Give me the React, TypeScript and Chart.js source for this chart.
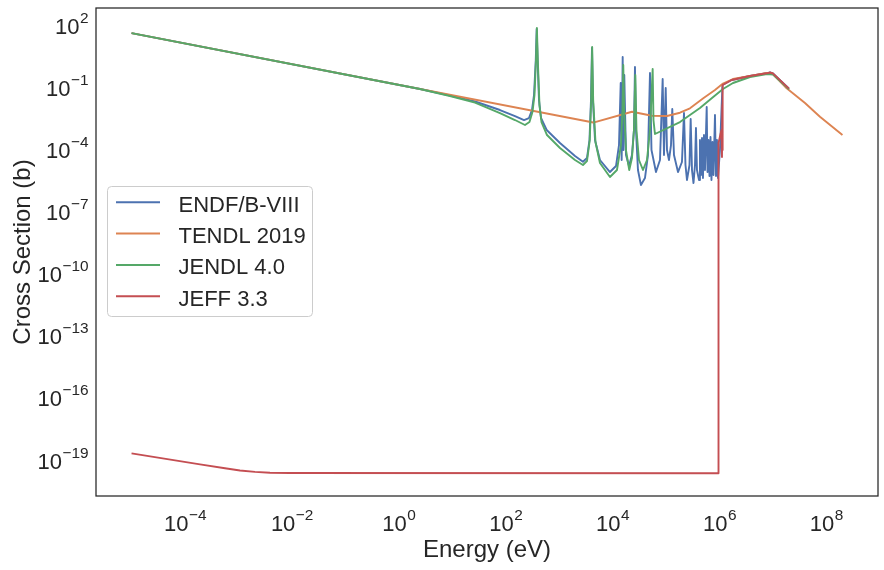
import React, { useEffect, useRef } from "react";
import { Chart, registerables } from "chart.js";

Chart.register(...registerables);

// All values are log10 of energy (eV) and log10 of cross section (b).
const endfLogE = [
  -5.0, 0.397, 0.958, 1.426, 1.893, 2.174, 2.343, 2.436, 2.492, 2.53, 2.563, 2.58, 2.597, 2.623, 2.661,
  2.767, 3.016, 3.297, 3.446, 3.521, 3.568, 3.596, 3.615, 3.633, 3.671, 3.764, 3.951, 4.064, 4.12, 4.152,
  4.17, 4.189, 4.204, 4.219, 4.251, 4.307, 4.363, 4.4, 4.419, 4.438, 4.475, 4.531, 4.606, 4.662, 4.7,
  4.728, 4.812, 4.887, 4.937, 4.962, 4.994, 5.018, 5.055, 5.093, 5.117, 5.149, 5.224, 5.298, 5.336, 5.364,
  5.392, 5.439, 5.461, 5.486, 5.514, 5.542, 5.56, 5.579, 5.617, 5.635, 5.654, 5.673, 5.691, 5.71, 5.729,
  5.761, 5.776, 5.794, 5.813, 5.832, 5.85, 5.869, 5.888, 5.916, 5.935, 5.953, 5.972, 6.009, 6.056,
  6.228, 6.571, 6.883, 6.945, 7.001, 7.301,
];
const endfLogXS = [
  1.42, -1.279, -1.595, -1.885, -2.295, -2.585, -2.778, -2.681, -2.295, -1.571, 0.119, 1.616, 0.119, -1.812, -2.681,
  -3.261, -3.889, -4.516, -4.792, -4.613, -3.744, -1.812, 0.699, -1.812, -3.744, -4.709, -5.289, -4.999, -3.985, -0.991,
  -4.709, 0.264, -4.227, -0.605, -4.468, -4.999, -4.468, -3.261, -0.219, -3.261, -5.192, -5.917, -5.579, -4.468, -0.509,
  -4.227, -5.289, -4.709, -0.798, -4.468, -1.233, -4.227, -4.709, -3.985, -2.247, -4.468, -5.289, -4.806, -2.44, -4.951,
  -5.675, -4.951, -2.73, -5.192, -5.82, -4.951, -3.164, -5.192, -5.675, -3.744, -5.434, -3.647, -5.579, -3.502, -5.192,
  -2.15, -5.289, -3.744, -5.482, -3.599, -5.675, -3.84, -5.434, -2.537, -5.482, -3.744, -5.579, -4.227, -1.088,
  -0.847, -0.653, -0.523, -0.484, -0.533, -1.26,
];

const tendlLogE = [
  -5.0, 3.639, 4.363, 4.737, 5.018, 5.261, 5.448, 5.697, 5.916, 6.066, 6.253, 6.571, 6.889, 6.982, 7.257,
  7.6, 7.88, 8.301,
];
const tendlLogXS = [
  1.42, -2.9, -2.377, -2.57, -2.585, -2.426, -2.213, -1.73, -1.329, -1.016, -0.798, -0.653, -0.509, -0.509, -1.247,
  -1.957, -2.619, -3.502,
];

const jendlLogE = [
  -5.0, 0.397, 0.958, 1.426, 1.893, 2.174, 2.361, 2.445, 2.501, 2.539, 2.567, 2.584, 2.601, 2.632, 2.67,
  2.773, 3.016, 3.297, 3.446, 3.521, 3.573, 3.6, 3.618, 3.637, 3.68, 3.764, 3.951, 4.082, 4.157, 4.185,
  4.2, 4.219, 4.251, 4.312, 4.363, 4.4, 4.425, 4.447, 4.494, 4.569, 4.644, 4.7, 4.75, 4.765, 4.793,
  5.261, 5.635, 5.86, 6.066, 6.253, 6.571, 6.889, 7.001, 7.301,
];
const jendlLogXS = [
  1.42, -1.279, -1.619, -1.933, -2.44, -2.778, -3.019, -2.875, -2.392, -1.571, 0.119, 1.664, 0.119, -2.054, -2.875,
  -3.502, -4.13, -4.709, -4.951, -4.758, -3.744, -1.812, 0.747, -1.812, -3.84, -4.854, -5.53, -5.192, -3.985, -2.295,
  -0.122, -2.537, -4.227, -5.192, -4.613, -3.261, -0.605, -3.261, -4.709, -5.192, -4.709, -3.261, -0.315, -2.778, -3.454,
  -2.875, -2.199, -1.716, -1.281, -0.991, -0.702, -0.557, -0.581, -1.3,
];

const jeffLogE = [
  -5.0, -3.719, -3.252, -2.971, -2.69, -2.41, -2.035, 5.978, 5.982, 6.037, 6.047, 6.052, 6.056, 6.062,
  6.228, 6.571, 6.883, 6.945, 7.001, 7.301,
];
const jeffLogXS = [
  -18.872, -19.403, -19.591, -19.697, -19.765, -19.804, -19.823, -19.83, -3.889, -3.261, -4.565, -2.054, -4.227, -1.088,
  -0.847, -0.653, -0.523, -0.484, -0.533, -1.26,
];

const seriesNames = ["ENDF/B-VIII", "TENDL 2019", "JENDL 4.0", "JEFF 3.3"];
const seriesColors = ["#4c72b0", "#dd8452", "#55a868", "#c44e52"];
const xTickExps = [-4, -2, 0, 2, 4, 6, 8];
const yTickExps = [2, -1, -4, -7, -10, -13, -16, -19];
const xLimExps = [-5.665, 8.966];
const yLimExps = [-20.93, 2.63];
const xAxisTitle = "Energy (eV)";
const yAxisTitle = "Cross Section (b)";

const FONT = '"Liberation Sans", Arial, Helvetica, sans-serif';
const TEXT = "#262626";

const toPoints = (lx: number[], ly: number[]) =>
  lx.map((v, i) => ({ x: Math.pow(10, v), y: Math.pow(10, ly[i]) }));

function drawPow(
  ctx: CanvasRenderingContext2D,
  exp: number,
  x: number,
  baseline: number,
  align: "center" | "right",
  size: number
) {
  const supSize = size * 0.7;
  const base = "10";
  const sup = exp < 0 ? "\u2212" + Math.abs(exp) : String(exp);
  ctx.font = `${size}px ${FONT}`;
  const wb = ctx.measureText(base).width;
  ctx.font = `${supSize}px ${FONT}`;
  const ws = ctx.measureText(sup).width;
  const total = wb + ws;
  const x0 = align === "center" ? x - total / 2 : x - total;
  ctx.textAlign = "left";
  ctx.textBaseline = "alphabetic";
  ctx.font = `${size}px ${FONT}`;
  ctx.fillText(base, x0, baseline);
  ctx.font = `${supSize}px ${FONT}`;
  ctx.fillText(sup, x0 + wb + 0.5, baseline - size * 0.5);
}

const decorPlugin = {
  id: "decor",
  afterDraw(chart: any) {
    const ctx: CanvasRenderingContext2D = chart.ctx;
    const area = chart.chartArea;
    const xs = chart.scales.x;
    const ys = chart.scales.y;
    ctx.save();
    // spines
    ctx.strokeStyle = TEXT;
    ctx.lineWidth = 1.25;
    ctx.strokeRect(area.left, area.top, area.right - area.left, area.bottom - area.top);
    ctx.fillStyle = TEXT;
    // x tick labels
    for (const e of xTickExps) {
      const px = xs.getPixelForValue(Math.pow(10, e));
      drawPow(ctx, e, px, area.bottom + 34.5, "center", 22);
    }
    // y tick labels
    for (const e of yTickExps) {
      const py = ys.getPixelForValue(Math.pow(10, e));
      drawPow(ctx, e, area.left - 8, py + 12.5, "right", 22);
    }
    // axis titles
    ctx.font = `24px ${FONT}`;
    ctx.textAlign = "center";
    ctx.textBaseline = "alphabetic";
    ctx.fillText(xAxisTitle, (area.left + area.right) / 2, 557);
    ctx.save();
    ctx.translate(30, (area.top + area.bottom) / 2);
    ctx.rotate(-Math.PI / 2);
    ctx.fillText(yAxisTitle, 0, 0);
    ctx.restore();
    // legend
    const lx = 107.5, ly = 186.5, lw = 205, lh = 130, r = 4;
    ctx.beginPath();
    ctx.moveTo(lx + r, ly);
    ctx.lineTo(lx + lw - r, ly);
    ctx.arcTo(lx + lw, ly, lx + lw, ly + r, r);
    ctx.lineTo(lx + lw, ly + lh - r);
    ctx.arcTo(lx + lw, ly + lh, lx + lw - r, ly + lh, r);
    ctx.lineTo(lx + r, ly + lh);
    ctx.arcTo(lx, ly + lh, lx, ly + lh - r, r);
    ctx.lineTo(lx, ly + r);
    ctx.arcTo(lx, ly, lx + r, ly, r);
    ctx.closePath();
    ctx.fillStyle = "rgba(255,255,255,0.8)";
    ctx.fill();
    ctx.strokeStyle = "#cccccc";
    ctx.lineWidth = 1;
    ctx.stroke();
    ctx.font = `22px ${FONT}`;
    ctx.textAlign = "left";
    seriesNames.forEach((name, i) => {
      const y = 202.3 + i * 31.3;
      ctx.strokeStyle = seriesColors[i];
      ctx.lineWidth = 2;
      ctx.beginPath();
      ctx.moveTo(116, y);
      ctx.lineTo(160, y);
      ctx.stroke();
      ctx.fillStyle = TEXT;
      ctx.fillText(name, 178.5, y + 9.5);
    });
    ctx.restore();
  },
};

export default function App() {
  const ref = useRef<HTMLCanvasElement | null>(null);
  useEffect(() => {
    if (!ref.current) return;
    const all = [
      toPoints(endfLogE, endfLogXS),
      toPoints(tendlLogE, tendlLogXS),
      toPoints(jendlLogE, jendlLogXS),
      toPoints(jeffLogE, jeffLogXS),
    ];
    const chart = new Chart(ref.current, {
      type: "line",
      data: {
        datasets: all.map((pts, i) => ({
          label: seriesNames[i],
          data: pts,
          borderColor: seriesColors[i],
          backgroundColor: seriesColors[i],
          borderWidth: 1.9,
          pointRadius: 0,
          tension: 0,
          fill: false,
          borderJoinStyle: "round" as const,
          order: 3 - i,
        })),
      },
      options: {
        animation: false,
        responsive: false,
        maintainAspectRatio: false,
        events: [],
        layout: { padding: { left: 96, top: 8, right: 6, bottom: 74 } },
        scales: {
          x: {
            type: "logarithmic",
            display: false,
            min: Math.pow(10, xLimExps[0]),
            max: Math.pow(10, xLimExps[1]),
          },
          y: {
            type: "logarithmic",
            display: false,
            min: Math.pow(10, yLimExps[0]),
            max: Math.pow(10, yLimExps[1]),
          },
        },
        plugins: {
          legend: { display: false },
          tooltip: { enabled: false },
        },
      },
      plugins: [decorPlugin],
    });
    return () => chart.destroy();
  }, []);
  return (
    <div style={{ position: "fixed", left: 0, top: 0, width: 884, height: 570, background: "#fff" }}>
      <canvas ref={ref} width={884} height={570} style={{ display: "block", width: 884, height: 570 }} />
    </div>
  );
}
